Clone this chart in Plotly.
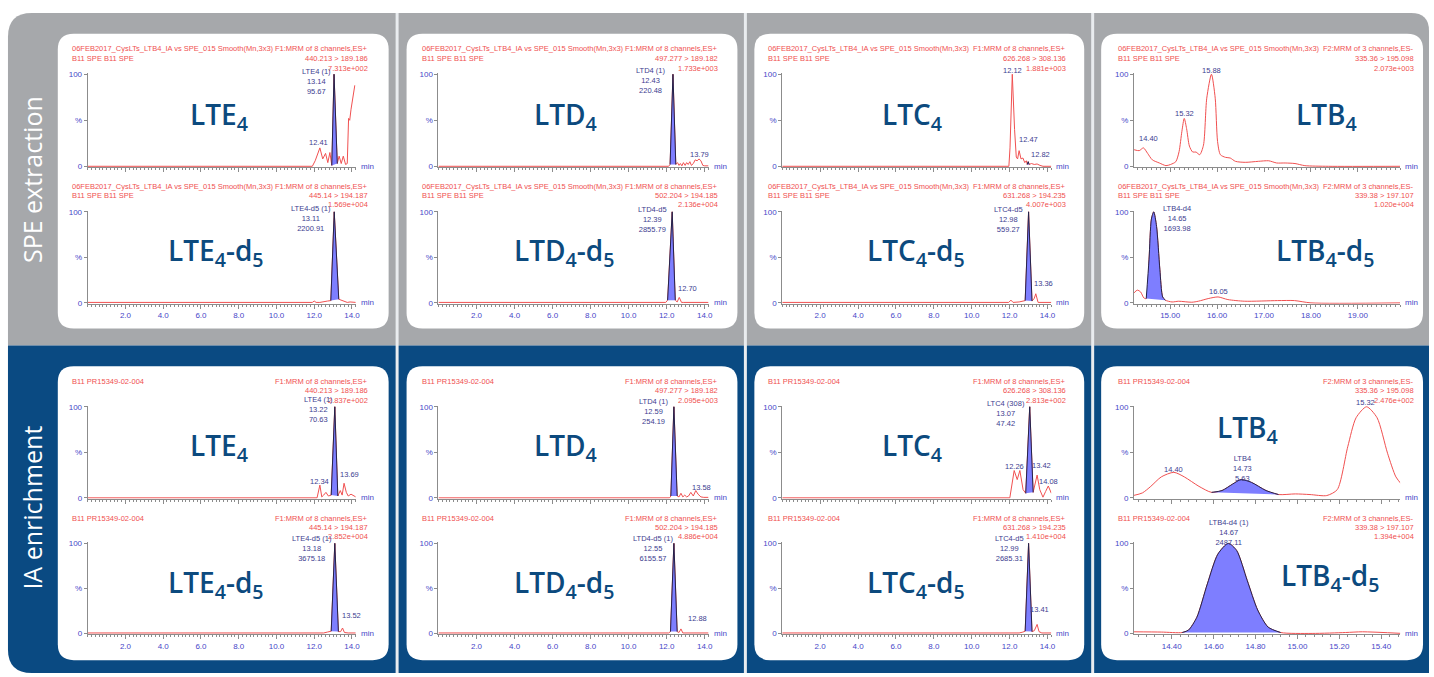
import plotly.graph_objects as go

W, H = 1434, 677

# ---------------- data: retention time (min) / relative intensity (%) ----------------
# SPE extraction row
spe_lte4_t = [0.0, 11.9, 12.05, 12.3, 12.45, 12.6, 12.72, 12.83, 12.93, 13.05, 13.22, 13.32, 13.43, 13.54, 13.66, 13.75, 13.82, 13.88, 13.95, 14.05, 14.15]
spe_lte4_i = [0, 0, 6, 20, 8, 14, 4, 15, 1, 100, 3, 11, 3, 11, 2, 3, 52, 50, 62, 74, 88]
spe_lte4_peak = [12.93, 13.22]

spe_lte4d5_t = [0.0, 11.9, 12.0, 12.1, 12.3, 12.55, 12.7, 12.88, 13.06, 13.3, 13.45, 13.6, 13.75, 13.9, 14.05, 14.2]
spe_lte4d5_i = [0.5, 0.5, 2, 0.5, 0.5, 1, 2, 2.5, 100, 4, 3, 2, 0.5, 1, 0.5, 0.5]
spe_lte4d5_peak = [12.88, 13.3]

spe_ltd4_t = [0.0, 12.1, 12.18, 12.33, 12.48, 12.57, 12.65, 12.72, 12.8, 12.88, 12.97, 13.05, 13.13, 13.22, 13.3, 13.4, 13.5, 13.6, 13.7, 13.8, 13.9, 14.0, 14.2]
spe_ltd4_i = [0, 0, 2, 100, 2, 4, 1, 3, 0.5, 4, 1, 4, 2, 5, 1, 3, 7, 6, 8, 6, 1, 0.5, 0.5]
spe_ltd4_peak = [12.18, 12.48]

spe_ltd4d5_t = [0.0, 11.95, 12.05, 12.29, 12.45, 12.55, 12.66, 12.78, 12.9, 14.2]
spe_ltd4d5_i = [0.5, 0.5, 3, 100, 3, 1, 6, 0.5, 0.5, 0.5]
spe_ltd4d5_peak = [12.05, 12.45]

spe_ltc4_t = [0.0, 11.96, 12.02, 12.14, 12.26, 12.35, 12.42, 12.5, 12.6, 12.7, 12.8, 12.88, 12.93, 12.98, 13.03, 13.15, 13.3, 13.45, 13.6, 13.76, 14.2]
spe_ltc4_i = [0, 0, 20, 100, 40, 10, 8, 17, 8, 9, 4, 6, 2, 5, 2, 3, 2, 2.5, 1, 0, 0]
spe_ltc4_peak = [12.93, 13.03]

spe_ltc4d5_t = [0.0, 11.95, 12.07, 12.18, 12.5, 12.7, 12.82, 13.0, 13.18, 13.3, 13.38, 13.5, 14.2]
spe_ltc4d5_i = [0.5, 0.5, 3, 0.5, 1, 2, 2.5, 100, 2, 5, 10, 0.5, 0.5]
spe_ltc4d5_peak = [12.82, 13.18]

spe_ltb4_t = [14.23, 14.34, 14.43, 14.52, 14.62, 14.77, 14.91, 15.01, 15.12, 15.19, 15.25, 15.3, 15.35, 15.41, 15.48, 15.55, 15.63, 15.71, 15.78, 15.88, 15.96, 16.01, 16.07, 16.18, 16.28, 16.39, 16.6, 16.88, 17.1, 17.27, 17.45, 17.66, 17.87, 18.37, 19.9]
spe_ltb4_i = [18, 17, 20, 14, 7, 3.6, 0.7, 2, 5, 16, 38, 52, 41, 22, 15.5, 15.5, 12.6, 23, 74, 100, 74, 27, 12.6, 9.7, 9, 5.4, 4.3, 5.4, 6, 3.6, 3.6, 3, 0.7, 0, 0]
spe_ltb4_peak = None

spe_ltb4d5_t = [14.23, 14.3, 14.37, 14.44, 14.49, 14.55, 14.6, 14.65, 14.71, 14.78, 14.84, 14.9, 15.04, 15.18, 15.46, 15.6, 15.81, 16.02, 16.23, 16.59, 17.29, 17.65, 18.0, 19.9]
spe_ltb4d5_i = [11, 14, 12, 5.4, 4.7, 48, 92, 100, 84, 37, 6.5, 2.9, 1, 1.8, 0.7, 1.8, 4.7, 6.5, 3.6, 1.8, 2.5, 2.5, 0, 0]
spe_ltb4d5_peak = [14.49, 14.9]

# IA enrichment row
ia_lte4_t = [0.0, 12.15, 12.3, 12.4, 12.5, 12.62, 12.75, 12.9, 13.09, 13.25, 13.38, 13.48, 13.58, 13.7, 13.8, 13.95, 14.2]
ia_lte4_i = [0, 0, 14, 1, 3, 6, 2, 3, 100, 2, 8, 3, 16, 6, 2, 4, 1]
ia_lte4_peak = [12.9, 13.25]

ia_lte4d5_t = [0.0, 12.5, 12.7, 12.9, 13.09, 13.28, 13.4, 13.5, 13.6, 13.8, 14.2]
ia_lte4d5_i = [0.5, 0.5, 1.5, 2.5, 100, 2, 2, 6, 1, 0.5, 0.5]
ia_lte4d5_peak = [12.9, 13.28]

ia_ltd4_t = [0.0, 12.15, 12.22, 12.38, 12.55, 12.65, 12.75, 12.85, 12.95, 13.05, 13.15, 13.27, 13.4, 13.53, 13.65, 13.8, 13.95, 14.2]
ia_ltd4_i = [0, 0, 2, 100, 2, 1, 5, 1, 3, 1, 2, 6, 2, 8, 4, 1, 0.5, 0.5]
ia_ltd4_peak = [12.22, 12.55]

ia_ltd4d5_t = [0.0, 12.1, 12.2, 12.38, 12.55, 12.65, 12.75, 12.85, 14.2]
ia_ltd4d5_i = [0.5, 0.5, 2, 100, 2, 1, 5, 0.5, 0.5]
ia_ltd4d5_peak = [12.2, 12.55]

ia_ltc4_t = [0.0, 12.01, 12.24, 12.4, 12.54, 12.71, 12.85, 13.06, 13.24, 13.34, 13.45, 13.59, 13.76, 13.9, 14.04, 14.2]
ia_ltc4_i = [0, 0, 30, 20, 30, 9, 5, 100, 6, 16, 25, 9, 0.7, 7, 13, 5]
ia_ltc4_peak = [12.85, 13.24]

ia_ltc4d5_t = [0.0, 12.5, 12.7, 12.82, 13.0, 13.18, 13.3, 13.45, 13.55, 13.7, 14.2]
ia_ltc4d5_i = [0.5, 0.5, 1.5, 2.5, 100, 2, 3, 10, 2, 0.5, 0.5]
ia_ltc4d5_peak = [12.82, 13.18]

ia_ltb4_t = [14.216, 14.26, 14.3, 14.35, 14.41, 14.46, 14.53, 14.59, 14.64, 14.69, 14.73, 14.78, 14.85, 14.91, 14.99, 15.06, 15.14, 15.19, 15.24, 15.28, 15.33, 15.38, 15.43, 15.47, 15.5]
ia_ltb4_i = [2.5, 5.4, 12.6, 23, 28, 23, 12.6, 6, 8, 15, 20, 17, 8, 3.6, 4.3, 3.6, 2.5, 9, 56, 88, 100, 88, 49, 23, 14]
ia_ltb4_peak = [14.59, 14.91]

ia_ltb4d5_t = [14.216, 14.35, 14.45, 14.48, 14.52, 14.57, 14.62, 14.67, 14.71, 14.76, 14.81, 14.86, 14.92, 15.07, 15.23, 15.31, 15.5]
ia_ltb4d5_i = [1.8, 1.5, 1, 3.7, 18, 55, 88, 100, 92, 59, 26, 7, 1, 0, 1, 1.8, 0]
ia_ltb4d5_peak = [14.45, 14.92]

row_titles = ["SPE extraction", "IA enrichment"]
analytes = ["LTE<sub>4</sub>", "LTD<sub>4</sub>", "LTC<sub>4</sub>", "LTB<sub>4</sub>"]
analytes_d5 = ["LTE<sub>4</sub>-d<sub>5</sub>", "LTD<sub>4</sub>-d<sub>5</sub>",
               "LTC<sub>4</sub>-d<sub>5</sub>", "LTB<sub>4</sub>-d<sub>5</sub>"]
header_left = {0: ["06FEB2017_CysLTs_LTB4_IA vs SPE_015 Smooth(Mn,3x3)", "B11 SPE B11 SPE"],
               1: ["B11 PR15349-02-004"]}
func_pos = "F1:MRM of 8 channels,ES+"
func_neg = "F2:MRM of 3 channels,ES-"
transitions = ["440.213 > 189.186", "497.277 > 189.182", "626.268 > 308.136", "335.36 > 195.098"]
transitions_d5 = ["445.14 > 194.187", "502.204 > 194.185", "631.268 > 194.235", "339.38 > 197.107"]
spe_intensity = ["7.313e+002", "1.733e+003", "1.881e+003", "2.073e+003"]
spe_intensity_d5 = ["1.569e+004", "2.136e+004", "4.007e+003", "1.020e+004"]
ia_intensity = ["2.837e+002", "2.095e+003", "2.813e+002", "2.476e+002"]
ia_intensity_d5 = ["2.852e+004", "4.886e+004", "1.410e+004", "1.394e+004"]

# (row, col, sub, times, intensities, integrated peak, line shape)
panels = [
    (0, 0, 0, spe_lte4_t, spe_lte4_i, spe_lte4_peak, "linear"),
    (0, 0, 1, spe_lte4d5_t, spe_lte4d5_i, spe_lte4d5_peak, "linear"),
    (0, 1, 0, spe_ltd4_t, spe_ltd4_i, spe_ltd4_peak, "linear"),
    (0, 1, 1, spe_ltd4d5_t, spe_ltd4d5_i, spe_ltd4d5_peak, "linear"),
    (0, 2, 0, spe_ltc4_t, spe_ltc4_i, spe_ltc4_peak, "linear"),
    (0, 2, 1, spe_ltc4d5_t, spe_ltc4d5_i, spe_ltc4d5_peak, "linear"),
    (0, 3, 0, spe_ltb4_t, spe_ltb4_i, spe_ltb4_peak, "spline"),
    (0, 3, 1, spe_ltb4d5_t, spe_ltb4d5_i, spe_ltb4d5_peak, "spline"),
    (1, 0, 0, ia_lte4_t, ia_lte4_i, ia_lte4_peak, "linear"),
    (1, 0, 1, ia_lte4d5_t, ia_lte4d5_i, ia_lte4d5_peak, "linear"),
    (1, 1, 0, ia_ltd4_t, ia_ltd4_i, ia_ltd4_peak, "linear"),
    (1, 1, 1, ia_ltd4d5_t, ia_ltd4d5_i, ia_ltd4d5_peak, "linear"),
    (1, 2, 0, ia_ltc4_t, ia_ltc4_i, ia_ltc4_peak, "linear"),
    (1, 2, 1, ia_ltc4d5_t, ia_ltc4d5_i, ia_ltc4d5_peak, "linear"),
    (1, 3, 0, ia_ltb4_t, ia_ltb4_i, ia_ltb4_peak, "spline"),
    (1, 3, 1, ia_ltb4d5_t, ia_ltb4d5_i, ia_ltb4d5_peak, "spline"),
]

# peak labels: (text, x px center, y px top/center, anchor)
peak_labels = [
    ("LTE4 (1)<br>13.14<br>95.67", 318, 63, "top"), ("12.41", 320, 141, "middle"),
    ("LTE4-d5 (1)<br>13.11<br>2200.91", 312, 201, "top"),
    ("LTD4 (1)<br>12.43<br>220.48", 653, 62, "top"), ("13.79", 702, 153, "middle"),
    ("LTD4-d5<br>12.39<br>2855.79", 655, 202, "top"), ("12.70", 690, 288, "middle"),
    ("12.12", 1016, 68, "middle"), ("12.47", 1032, 138, "middle"), ("12.82", 1044, 153, "middle"),
    ("LTC4-d5<br>12.98<br>559.27", 1012, 202, "top"), ("13.36", 1047, 283, "middle"),
    ("15.88", 1216, 68, "middle"), ("15.32", 1189, 112, "middle"), ("14.40", 1153, 137, "middle"),
    ("LTB4-d4<br>14.65<br>1693.98", 1181, 201, "top"), ("16.05", 1223, 292, "middle"),
    ("LTE4 (1)<br>13.22<br>70.63", 320, 394, "top"), ("12.34", 321, 484, "middle"), ("13.69", 351, 476, "middle"),
    ("LTE4-d5 (1)<br>13.18<br>3675.18", 313, 535, "top"), ("13.52", 353, 619, "middle"),
    ("LTD4 (1)<br>12.59<br>254.19", 656, 396, "top"), ("13.58", 704, 490, "middle"),
    ("LTD4-d5 (1)<br>12.55<br>6155.57", 655, 535, "top"), ("12.88", 700, 622, "middle"),
    ("LTC4 (308)<br>13.07<br>47.42", 1010, 398, "top"), ("12.26", 1018, 468, "middle"),
    ("13.42", 1045, 467, "middle"), ("14.08", 1052, 483, "middle"),
    ("LTC4-d5<br>12.99<br>2685.31", 1013, 535, "top"), ("13.41", 1043, 613, "middle"),
    ("14.40", 1178, 471, "middle"), ("LTB4<br>14.73<br>5.63", 1247, 454, "top"), ("15.32", 1370, 404, "middle"),
    ("LTB4-d4 (1)<br>14.67<br>2487.11", 1233, 518, "top"),
]

# ---------------- styling / geometry ----------------
RED = "#f05050"
FILL = "#7e7eff"
OUTLINE = "#23234a"
TICKBLUE = "#4646c8"
LABELBLUE = "#3d3d8f"
AXIS = "#8c8c8c"
NAVY = "#0c4a7e"
GRAY = "#a6a8ab"
BLUE = "#0a4a82"
SANS = "Liberation Sans, Arial, sans-serif"
BIG = "Open Sans, sans-serif"

XDOM = [(88, 357), (440, 711), (785, 1055), (1138, 1405)]
YPIX = {(0, 0): (72, 165), (0, 1): (211, 303), (1, 0): (408, 500), (1, 1): (546, 637)}
CARD_X = [(58, 390), (408, 740), (757, 1088), (1105, 1428)]
CARD_Y = [(31, 329), (367, 664)]
HDR_LEFT = [70, 421, 769, 1120]
HDR_RIGHT = [371, 723, 1072, 1421]
HDR_Y = {(0, 0): [46, 56, 66], (0, 1): [185, 195, 204], (1, 0): [382, 392, 402], (1, 1): [521, 530, 539]}
BIG_POS = {(0, 0): [(220, 114), (567, 114), (915, 114), (1331, 114)],
           (0, 1): [(217, 252), (566, 252), (919, 252), (1330, 252)],
           (1, 0): [(220, 449), (567, 449), (915, 449), (1252, 430)],
           (1, 1): [(217, 587), (566, 587), (919, 587), (1335, 580)]}


def X(p):
    return p / W


def Y(p):
    return 1 - p / H


def rrect(x0, y0, x1, y1, r):
    tl, tr, br, bl = r
    return (f"M {X(x0 + tl)},{Y(y0)} L {X(x1 - tr)},{Y(y0)} Q {X(x1)},{Y(y0)} {X(x1)},{Y(y0 + tr)} "
            f"L {X(x1)},{Y(y1 - br)} Q {X(x1)},{Y(y1)} {X(x1 - br)},{Y(y1)} "
            f"L {X(x0 + bl)},{Y(y1)} Q {X(x0)},{Y(y1)} {X(x0)},{Y(y1 - bl)} "
            f"L {X(x0)},{Y(y0 + tl)} Q {X(x0)},{Y(y0)} {X(x0 + tl)},{Y(y0)} Z")


shapes = [
    dict(type="path", xref="paper", yref="paper", path=rrect(8, 10, 1434, 346, (24, 18, 0, 0)),
         fillcolor=GRAY, line=dict(width=0), layer="below"),
    dict(type="path", xref="paper", yref="paper", path=rrect(8, 346, 1434, 677, (0, 0, 0, 24)),
         fillcolor=BLUE, line=dict(width=0), layer="below"),
]
for sx in (398.5, 748, 1096.5):
    shapes.append(dict(type="rect", xref="paper", yref="paper", x0=X(sx - 1.5), x1=X(sx + 1.5),
                       y0=Y(677), y1=Y(10), fillcolor="#e9ecef", line=dict(width=0), layer="below"))
for (cy0, cy1) in CARD_Y:
    for (cx0, cx1) in CARD_X:
        shapes.append(dict(type="path", xref="paper", yref="paper",
                           path=rrect(cx0, cy0, cx1, cy1, (16, 16, 16, 16)),
                           fillcolor="white", line=dict(width=0), layer="below"))

annotations = []


def txt(x, y, s, size=7.5, color=RED, xa="center", ya="middle", family=SANS, weight=None, **kw):
    font = dict(size=size, color=color, family=family)
    if weight:
        font["weight"] = weight
    annotations.append(dict(x=X(x), y=Y(y), xref="paper", yref="paper", text=s, showarrow=False,
                            xanchor=xa, yanchor=ya, font=font, **kw))


fig = go.Figure()
layout_axes = {}
for k, (r, c, s, t, inten, peak, shape) in enumerate(panels, start=1):
    xa, ya = f"x{k}", f"y{k}"
    x0, x1 = XDOM[c]
    y100, y0 = YPIX[(r, s)]
    sc = (y0 - y100) / 100.0
    if c < 3:
        xr, tv, dec, mdt, m0 = [0, 14.2], [2, 4, 6, 8, 10, 12, 14], 1, 0.2, 0
    elif r == 0:
        xr, tv, dec, mdt, m0 = [14.23, 19.9], [15, 16, 17, 18, 19], 2, 0.1, 14.0
    else:
        xr, tv, dec, mdt, m0 = [14.22, 15.49], [14.4, 14.6, 14.8, 15.0, 15.2, 15.4], 2, 0.04, 14.0
    layout_axes["xaxis" if k == 1 else f"xaxis{k}"] = dict(
        domain=[X(x0), X(x1)], range=xr, anchor=ya, showline=True, linecolor=AXIS, linewidth=1,
        ticks="outside", ticklen=4, tickcolor=AXIS, tickvals=tv, ticktext=[f"{v:.{dec}f}" for v in tv],
        showticklabels=(s == 1), tickfont=dict(size=8, color=TICKBLUE, family=SANS),
        showgrid=False, zeroline=False, fixedrange=True,
        minor=dict(ticks="outside", ticklen=2, tick0=m0, dtick=mdt, tickcolor=AXIS, showgrid=False))
    layout_axes["yaxis" if k == 1 else f"yaxis{k}"] = dict(
        domain=[Y(y0 + sc), Y(y100 - sc)], range=[-1, 101], anchor=xa, showline=True, linecolor=AXIS,
        linewidth=1, ticks="outside", ticklen=3, tickcolor=AXIS, tickvals=[0, 50, 100],
        ticktext=["0", "%", "100"], tickfont=dict(size=8, color=TICKBLUE, family=SANS),
        showgrid=False, zeroline=False, fixedrange=True)

    line = dict(color=RED, width=1, shape=shape)
    if shape == "spline":
        line["smoothing"] = 0.7
    fig.add_trace(go.Scatter(x=t, y=inten, mode="lines", line=line, xaxis=xa, yaxis=ya,
                             hoverinfo="skip", showlegend=False))
    if peak:
        pt = [tt for tt in t if peak[0] <= tt <= peak[1]]
        pi = [ii for tt, ii in zip(t, inten) if peak[0] <= tt <= peak[1]]
        pl = dict(color=OUTLINE, width=1, shape=shape)
        if shape == "spline":
            pl["smoothing"] = 0.7
        fig.add_trace(go.Scatter(x=pt, y=pi, mode="lines", fill="toself", fillcolor=FILL, line=pl,
                                 xaxis=xa, yaxis=ya, hoverinfo="skip", showlegend=False))

    # headers
    hy = HDR_Y[(r, s)]
    for j, line_txt in enumerate(header_left[r]):
        txt(HDR_LEFT[c], hy[j], line_txt, xa="left")
    fn = func_neg if c == 3 else func_pos
    trans = (transitions if s == 0 else transitions_d5)[c]
    if r == 0:
        inten_lbl = (spe_intensity if s == 0 else spe_intensity_d5)[c]
    else:
        inten_lbl = (ia_intensity if s == 0 else ia_intensity_d5)[c]
    for j, line_txt in enumerate([fn, trans, inten_lbl]):
        txt(HDR_RIGHT[c], hy[j], line_txt, xa="right")
    # "min" label
    txt(x1 + 3, y0, "min", size=8, color=TICKBLUE, xa="left")
    # big analyte label
    bx, by = BIG_POS[(r, s)][c]
    txt(bx, by, (analytes if s == 0 else analytes_d5)[c], size=28, color=NAVY, family=BIG, weight=600)

for (s_, x_, y_, anc) in peak_labels:
    txt(x_, y_, s_, size=7.5, color=LABELBLUE, ya=anc)

txt(32, 178, row_titles[0], size=25, color="white", family=BIG, textangle=-90)
txt(32, 510, row_titles[1], size=25, color="white", family=BIG, textangle=-90)

fig.update_layout(width=W, height=H, margin=dict(l=0, r=0, t=0, b=0), autosize=False,
                  paper_bgcolor="white", plot_bgcolor="rgba(0,0,0,0)",
                  shapes=shapes, annotations=annotations, showlegend=False, **layout_axes)
fig.write_html("out.html", config={"displayModeBar": False, "staticPlot": True},
               post_script="document.body.style.margin='0px';document.body.style.overflow='hidden';")
